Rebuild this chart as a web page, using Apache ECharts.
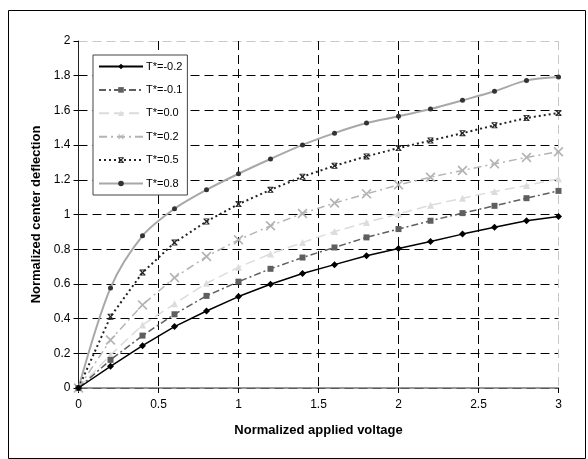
<!DOCTYPE html>
<html>
<head>
<meta charset="utf-8">
<script src="https://cdn.jsdelivr.net/npm/echarts@6/dist/echarts.min.js"></script>
<style>
html,body{margin:0;padding:0;background:#fff;}
#c{width:588px;height:459px;}
</style>
</head>
<body>
<div id="c"></div>
<script>
var xValues = [0, 0.2, 0.4, 0.6, 0.8, 1.0, 1.2, 1.4, 1.6, 1.8, 2.0, 2.2, 2.4, 2.6, 2.8, 3.0];
var seriesNames = ['T*=-0.2', 'T*=-0.1', 'T*=0.0', 'T*=0.2', 'T*=0.5', 'T*=0.8'];
var tm02 = [0, 0.125, 0.244, 0.354, 0.444, 0.527, 0.598, 0.660, 0.711, 0.762, 0.804, 0.844, 0.887, 0.927, 0.964, 0.989];
var tm01 = [0, 0.162, 0.302, 0.425, 0.531, 0.613, 0.687, 0.752, 0.810, 0.868, 0.916, 0.964, 1.008, 1.050, 1.094, 1.136];
var t00 = [0, 0.190, 0.363, 0.485, 0.604, 0.696, 0.773, 0.838, 0.902, 0.954, 1.004, 1.053, 1.094, 1.133, 1.167, 1.206];
var t02 = [0, 0.277, 0.479, 0.636, 0.758, 0.854, 0.935, 1.006, 1.066, 1.119, 1.171, 1.215, 1.254, 1.292, 1.329, 1.362];
var t05 = [0, 0.411, 0.665, 0.838, 0.960, 1.060, 1.142, 1.218, 1.281, 1.335, 1.383, 1.426, 1.469, 1.514, 1.556, 1.585];
var t08 = [0, 0.577, 0.877, 1.033, 1.142, 1.235, 1.320, 1.401, 1.469, 1.527, 1.566, 1.608, 1.658, 1.710, 1.773, 1.793];
var xTitle = 'Normalized applied voltage';
var yTitle = 'Normalized center deflection';

function pairs(ys) { return xValues.map(function (x, i) { return [x, ys[i]]; }); }

var X_SYM = 'path://M0,1.2 L1.2,0 L5,3.8 L8.8,0 L10,1.2 L6.2,5 L10,8.8 L8.8,10 L5,6.2 L1.2,10 L0,8.8 L3.8,5 Z';
var AST_SYM = 'path://M0,1.5 L1.5,0 L5,3.5 L8.5,0 L10,1.5 L6.5,5 L10,8.5 L8.5,10 L5,6.5 L1.5,10 L0,8.5 L3.5,5 Z M0,0 L10,0 L10,1.3 L0,1.3 Z M0,8.7 L10,8.7 L10,10 L0,10 Z';

var font = 'Liberation Sans, Arial, sans-serif';
var chart = echarts.init(document.getElementById('c'), null, {renderer: 'canvas'});

var yGridColors = [];
for (var i = 0; i < 10; i++) yGridColors.push('#000');
yGridColors.push('#c8c8c8');
var xGridColors = ['#000', '#000', '#000', '#000', '#000', '#000', '#c8c8c8'];

chart.setOption({
  animation: false,
  backgroundColor: '#fff',
  textStyle: {fontFamily: font},
  graphic: [{
    type: 'rect', left: 6, top: 8, silent: true, z: -1,
    shape: {width: 577, height: 448},
    style: {fill: 'none', stroke: '#000', lineWidth: 1}
  }],
  grid: {left: 78.5, right: 29.5, top: 41, bottom: 71, containLabel: false},
  legend: {
    orient: 'vertical', left: 93, top: 55,
    backgroundColor: '#fff', borderColor: '#444', borderWidth: 1,
    padding: [6, 5, 6, 5],
    itemWidth: 44, itemHeight: 7, itemGap: 12.4,
    textStyle: {fontFamily: font, fontSize: 11, color: '#000', padding: [0, 0, 0, -2]},
    data: seriesNames
  },
  xAxis: {
    type: 'value', min: 0, max: 3, interval: 0.5,
    name: xTitle, nameLocation: 'middle', nameGap: 36,
    nameTextStyle: {fontFamily: font, fontSize: 13, fontWeight: 'bold', color: '#000'},
    axisLine: {onZero: false, lineStyle: {color: '#777', width: 1.5}},
    axisTick: {show: true, inside: false, length: 5, lineStyle: {color: '#000'}},
    axisLabel: {fontFamily: font, fontSize: 12, color: '#000', margin: 11},
    splitLine: {show: true, lineStyle: {color: xGridColors, type: [9, 5], width: 1}}
  },
  yAxis: {
    type: 'value', min: 0, max: 2, interval: 0.2,
    name: yTitle, nameLocation: 'middle', nameGap: 34, nameRotate: 90,
    nameTextStyle: {fontFamily: font, fontSize: 13, fontWeight: 'bold', color: '#000'},
    axisLine: {show: true, lineStyle: {color: '#222', width: 1}},
    axisTick: {show: true, inside: false, length: 5, lineStyle: {color: '#000'}},
    axisLabel: {fontFamily: font, fontSize: 12, color: '#000', margin: 8,
      formatter: function (v) { return String(Math.round(v * 10) / 10); }},
    splitLine: {show: true, lineStyle: {color: yGridColors, type: [9, 5], width: 1}}
  },
  series: [
    {name: seriesNames[0], type: 'line', data: pairs(tm02), symbol: 'diamond', symbolSize: 7,
      itemStyle: {color: '#000'}, lineStyle: {color: '#000', width: 1.5, type: 'solid'}, z: 8},
    {name: seriesNames[1], type: 'line', data: pairs(tm01), symbol: 'rect', symbolSize: 6,
      itemStyle: {color: '#5f5f5f'}, lineStyle: {color: '#5f5f5f', width: 1.5, type: [7, 3, 2, 3]}, z: 7},
    {name: seriesNames[2], type: 'line', data: pairs(t00), symbol: 'triangle', symbolSize: 7,
      itemStyle: {color: '#dcdcdc'}, lineStyle: {color: '#dcdcdc', width: 1.5, type: [10, 5]}, z: 6},
    {name: seriesNames[3], type: 'line', data: pairs(t02), symbol: X_SYM, symbolSize: 10,
      itemStyle: {color: '#b4b4b4'}, lineStyle: {color: '#b4b4b4', width: 1.5, type: [8, 4, 2, 4]}, z: 5},
    {name: seriesNames[4], type: 'line', data: pairs(t05), symbol: AST_SYM, symbolSize: 6,
      itemStyle: {color: '#222'}, lineStyle: {color: '#222', width: 2, type: [2, 3]}, z: 4},
    {name: seriesNames[5], type: 'line', data: pairs(t08), symbol: 'circle', symbolSize: 5, smooth: 0.3,
      itemStyle: {color: '#333'}, lineStyle: {color: '#a8a8a8', width: 2, type: 'solid'}, z: 3}
  ]
});
</script>
</body>
</html>
